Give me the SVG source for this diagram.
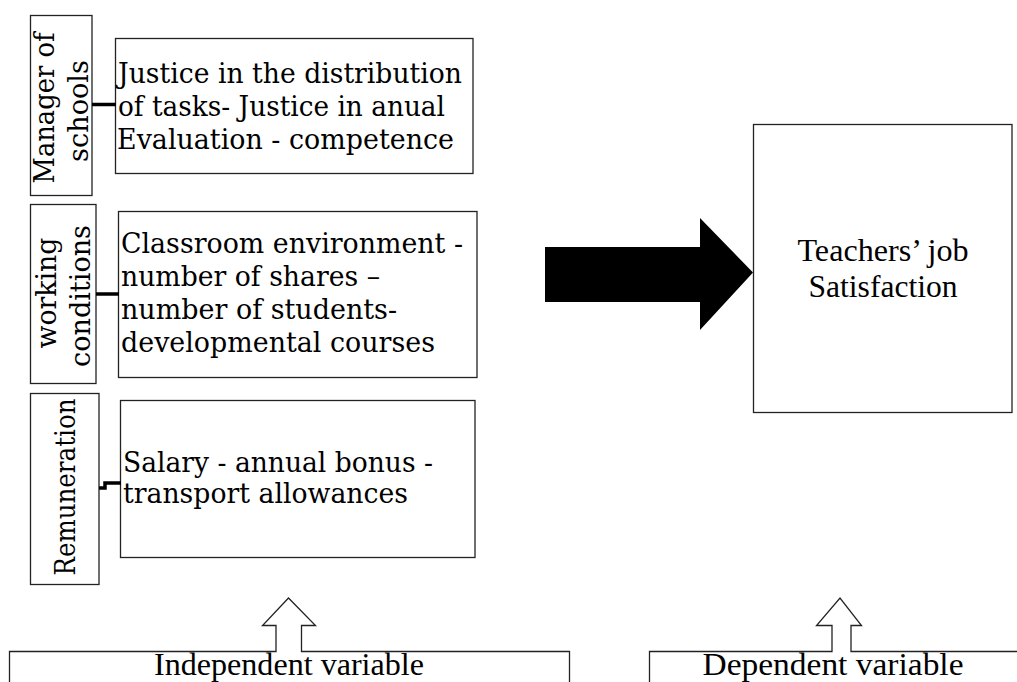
<svg xmlns="http://www.w3.org/2000/svg" width="1017" height="682" viewBox="0 0 1017 682">
<style>
.box{fill:#fff;stroke:#222;stroke-width:1.3}
.t{font-family:"DejaVu Serif","Liberation Serif",serif;font-size:27px;fill:#000}
.tr{font-family:"Liberation Serif","Times New Roman",serif;fill:#000;text-anchor:middle}
.link{fill:none;stroke:#000;stroke-width:3.5}
</style>
<rect width="1017" height="682" fill="#fff"/>
<g id="manager">
<rect class="box" x="30.5" y="15.5" width="61.5" height="180"/>
<text class="t" text-anchor="middle" transform="translate(54,108) rotate(-90)" textLength="151" lengthAdjust="spacingAndGlyphs">Manager of</text>
<text class="t" text-anchor="middle" transform="translate(88,111) rotate(-90)" textLength="102" lengthAdjust="spacingAndGlyphs">schools</text>
</g>
<g id="justice">
<rect class="box" x="115.5" y="38.5" width="357.5" height="135"/>
<text class="t" x="118" y="83" textLength="344" lengthAdjust="spacingAndGlyphs">Justice in the distribution</text>
<text class="t" x="118" y="116" textLength="327" lengthAdjust="spacingAndGlyphs">of tasks- Justice in anual</text>
<text class="t" x="117" y="149" textLength="337" lengthAdjust="spacingAndGlyphs">Evaluation - competence</text>
</g>
<g id="working">
<rect class="box" x="30.5" y="204.5" width="65.5" height="179"/>
<text class="t" text-anchor="middle" transform="translate(56,293) rotate(-90)" textLength="111" lengthAdjust="spacingAndGlyphs">working</text>
<text class="t" text-anchor="middle" transform="translate(90,296) rotate(-90)" textLength="142" lengthAdjust="spacingAndGlyphs">conditions</text>
</g>
<g id="classroom">
<rect class="box" x="118.5" y="211.5" width="358.5" height="166"/>
<text class="t" x="121" y="253" textLength="342" lengthAdjust="spacingAndGlyphs">Classroom environment -</text>
<text class="t" x="121" y="286" textLength="259" lengthAdjust="spacingAndGlyphs">number of shares –</text>
<text class="t" x="121" y="319" textLength="276" lengthAdjust="spacingAndGlyphs">number of students-</text>
<text class="t" x="121" y="352" textLength="314" lengthAdjust="spacingAndGlyphs">developmental courses</text>
</g>
<g id="remuneration">
<rect class="box" x="30.5" y="393.5" width="68.5" height="191"/>
<text class="t" text-anchor="middle" transform="translate(75,487) rotate(-90)" textLength="177" lengthAdjust="spacingAndGlyphs">Remuneration</text>
</g>
<g id="salary">
<rect class="box" x="120.5" y="400.5" width="354.5" height="157"/>
<text class="t" x="123" y="472" textLength="310" lengthAdjust="spacingAndGlyphs">Salary - annual bonus -</text>
<text class="t" x="123" y="503" textLength="285" lengthAdjust="spacingAndGlyphs">transport allowances</text>
</g>
<g id="satisfaction">
<rect class="box" x="753.5" y="124.5" width="258.5" height="288" stroke="#444"/>
<text class="tr" x="883" y="261" font-size="32" textLength="171" lengthAdjust="spacingAndGlyphs">Teachers’ job</text>
<text class="tr" x="883" y="297" font-size="32" textLength="149" lengthAdjust="spacingAndGlyphs">Satisfaction</text>
</g>
<g id="independent">
<path class="box" d="M9.5 682 V651.5 H276 V625.5 H262.5 L288.5 598 L315.5 625.5 H301.5 V651.5 H569.5 V682"/>
<text class="tr" x="289" y="675" font-size="31" textLength="270" lengthAdjust="spacingAndGlyphs">Independent variable</text>
</g>
<g id="dependent">
<path class="box" d="M649.5 682 V651.5 H832 V625.5 H816.5 L840 598 L861.5 625.5 H851 V651.5 H1020"/>
<text class="tr" x="833" y="675" font-size="31" textLength="261" lengthAdjust="spacingAndGlyphs">Dependent variable</text>
</g>
<g id="connectors">
<line class="link" x1="92" y1="104.5" x2="116" y2="104.5"/>
<line class="link" x1="96" y1="294" x2="119" y2="294"/>
<path class="link" stroke-width="3" d="M99 488 H105 V483 H121"/>
<polygon points="545,247 700,247 700,218 753,272.5 700,330 700,302 545,302" fill="#000"/>
</g>
</svg>
